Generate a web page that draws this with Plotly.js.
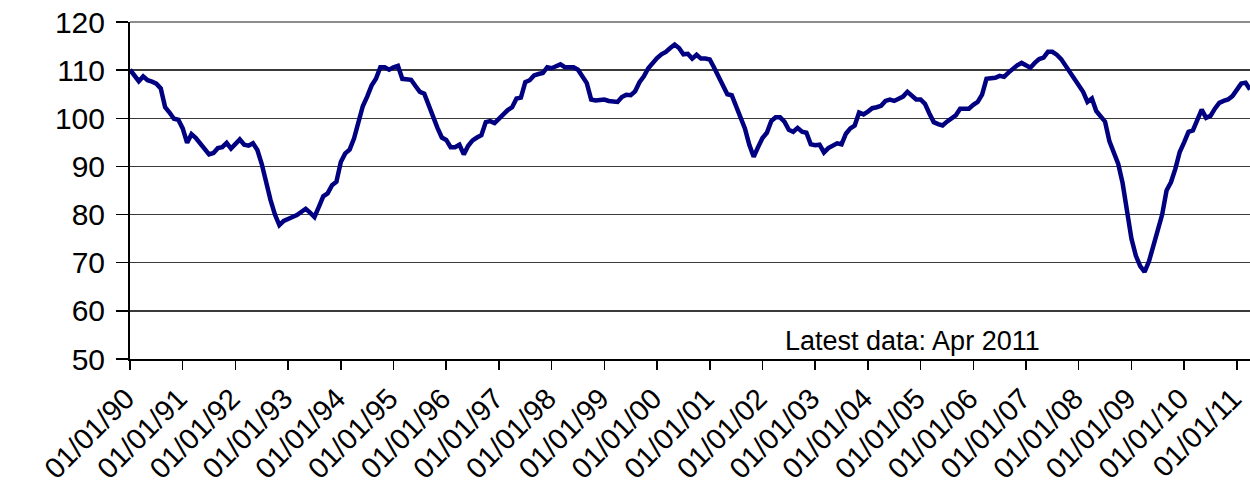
<!DOCTYPE html>
<html>
<head>
<meta charset="utf-8">
<script src="https://cdn.plot.ly/plotly-3.0.1.min.js"></script>
<style>
  html, body { margin: 0; padding: 0; background: #ffffff; }
  #chart { width: 1250px; height: 485px; }
</style>
</head>
<body>
<div id="chart"></div>
<script>
// Monthly index, Jan 1990 .. Apr 2011
const values1990 = [110.1, 108.9, 107.7, 108.7, 107.9, 107.6, 107.2, 106.2, 102.3, 101.2, 99.9, 99.7];
const values1991 = [97.9, 94.9, 96.7, 95.9, 94.8, 93.6, 92.5, 92.8, 93.8, 94.0, 94.9, 93.7];
const values1992 = [94.8, 95.6, 94.5, 94.3, 94.8, 93.4, 90.5, 86.4, 83.0, 80.0, 77.8, 78.7];
const values1993 = [79.2, 79.5, 79.9, 80.5, 81.2, 80.4, 79.5, 81.6, 83.8, 84.4, 86.1, 86.8];
const values1994 = [90.9, 92.7, 93.5, 95.8, 99.2, 102.5, 104.5, 106.8, 108.2, 110.6, 110.6, 110.1];
const values1995 = [110.6, 110.9, 108.2, 108.0, 108.0, 106.7, 105.5, 105.1, 102.5, 99.9, 98.0, 96.0];
const values1996 = [95.5, 94.0, 94.0, 94.5, 92.5, 94.3, 95.4, 96.0, 96.5, 99.2, 99.4, 99.0];
const values1997 = [100.0, 101.0, 101.7, 102.3, 104.1, 104.3, 107.5, 107.9, 108.9, 109.2, 109.4, 110.6];
const values1998 = [110.4, 110.8, 111.2, 110.6, 110.6, 110.6, 110.1, 108.6, 107.3, 103.9, 103.7, 103.8];
const values1999 = [103.9, 103.6, 103.4, 103.4, 104.4, 104.9, 104.8, 105.6, 107.5, 108.7, 110.4, 111.5];
const values2000 = [112.5, 113.3, 113.8, 114.6, 115.3, 114.6, 113.3, 113.4, 112.4, 113.2, 112.4, 112.4];
const values2001 = [112.2, 110.5, 108.5, 106.6, 105.0, 104.8, 102.3, 99.8, 97.9, 94.5, 92.0, 94.0];
const values2002 = [95.9, 97.0, 99.4, 100.2, 100.2, 99.3, 97.6, 97.2, 98.0, 97.2, 97.0, 94.6];
const values2003 = [94.4, 94.5, 92.9, 93.8, 94.3, 94.8, 94.6, 96.8, 97.9, 98.5, 101.2, 100.8];
const values2004 = [101.4, 102.1, 102.3, 102.6, 103.6, 103.9, 103.6, 104.0, 104.5, 105.5, 104.6, 103.9];
const values2005 = [103.9, 103.0, 101.0, 99.2, 98.8, 98.5, 99.3, 99.9, 100.6, 102.0, 102.1, 102.0];
const values2006 = [102.8, 103.4, 104.9, 108.2, 108.3, 108.4, 108.8, 108.6, 109.5, 110.3, 111.0, 111.5];
const values2007 = [111.0, 110.5, 111.5, 112.3, 112.6, 113.8, 113.8, 113.2, 112.3, 111.0, 109.6, 108.0];
const values2008 = [107.0, 105.5, 103.4, 104.1, 101.5, 100.5, 99.3, 95.2, 92.5, 90.5, 86.5, 80.5];
const values2009 = [75.0, 71.5, 69.3, 68.1, 70.3, 73.5, 76.5, 80.0, 85.0, 86.7, 89.5, 93.0];
const values2010 = [95.0, 97.2, 97.5, 99.6, 101.8, 100.1, 100.5, 102.0, 103.2, 103.6, 103.9, 104.6];
const values2011 = [106.0, 107.2, 107.4, 106.0];

const tickLabels = ["01/01/90","01/01/91","01/01/92","01/01/93","01/01/94","01/01/95","01/01/96",
  "01/01/97","01/01/98","01/01/99","01/01/00","01/01/01","01/01/02","01/01/03","01/01/04",
  "01/01/05","01/01/06","01/01/07","01/01/08","01/01/09","01/01/10","01/01/11"];
const noteText = "Latest data: Apr 2011";

const series = [].concat(values1990, values1991, values1992, values1993, values1994, values1995,
  values1996, values1997, values1998, values1999, values2000, values2001, values2002, values2003,
  values2004, values2005, values2006, values2007, values2008, values2009, values2010, values2011);
const monthIndex = series.map((v, i) => i);
const tickPositions = tickLabels.map((t, i) => i * 12);

const FONT = "Liberation Sans, Arial, sans-serif";

const trace = {
  x: monthIndex,
  y: series,
  type: "scatter",
  mode: "lines",
  line: { color: "#000080", width: 4.5, shape: "linear" },
  hoverinfo: "skip",
  cliponaxis: true
};

const layout = {
  width: 1250,
  height: 485,
  margin: { l: 130, r: 0, t: 22, b: 126, pad: 0 },
  paper_bgcolor: "#ffffff",
  plot_bgcolor: "#ffffff",
  showlegend: false,
  font: { family: FONT, color: "#000000", size: 28 },
  xaxis: {
    range: [0, series.length - 1],
    tickmode: "array",
    tickvals: tickPositions,
    ticktext: tickLabels,
    tickangle: -45,
    ticks: "outside",
    ticklen: 9,
    tickwidth: 1.5,
    tickcolor: "#000000",
    showline: true,
    linecolor: "#000000",
    linewidth: 2,
    showgrid: false,
    zeroline: false,
    ticklabeloverflow: "allow",
    ticklabelshift: -4,
    tickfont: { family: FONT, size: 29, color: "#000000" }
  },
  yaxis: {
    range: [50, 120],
    tickmode: "linear",
    tick0: 50,
    dtick: 10,
    ticks: "outside",
    ticklen: 12,
    tickwidth: 1.5,
    tickcolor: "#000000",
    showline: true,
    linecolor: "#000000",
    linewidth: 2,
    showgrid: true,
    gridcolor: "#3a3a3a",
    gridwidth: 1.5,
    zeroline: false,
    tickfont: { family: FONT, size: 30, color: "#000000" },
    ticklabelstandoff: 5
  },
  shapes: [{
    type: "line", xref: "paper", yref: "paper",
    x0: 0, x1: 1, y0: 1, y1: 1,
    line: { color: "#8c8c8c", width: 2 },
    layer: "below"
  }],
  annotations: [{
    text: noteText,
    xref: "paper", yref: "paper",
    x: (783 - 130) / 1120, xanchor: "left",
    y: (359 - 341) / 337, yanchor: "middle",
    showarrow: false,
    font: { family: FONT, size: 27, color: "#000000" }
  }]
};

Plotly.newPlot("chart", [trace], layout, { staticPlot: true, displayModeBar: false });
</script>
</body>
</html>
